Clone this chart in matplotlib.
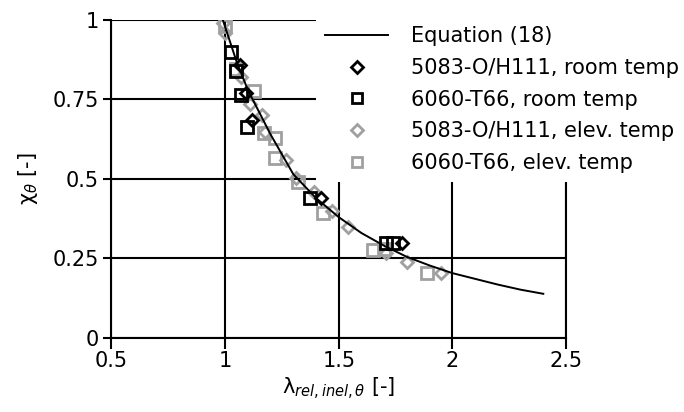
import matplotlib
matplotlib.use("Agg")
import matplotlib.pyplot as plt

plt.rcParams['font.family'] = ['DejaVu Sans']
plt.rcParams['mathtext.fontset'] = 'dejavusans'

# Equation (18) curve
eq_lam = [0.99, 1.05, 1.10, 1.20, 1.30, 1.40, 1.50, 1.60, 1.70, 1.80, 1.90, 2.00, 2.10, 2.20, 2.30, 2.40]
eq_chi = [1.00, 0.87, 0.78, 0.64, 0.515, 0.44, 0.38, 0.33, 0.29, 0.255, 0.228, 0.204, 0.186, 0.168, 0.152, 0.139]

# 5083-O/H111, room temp
al5083_rt_lam = [1.066, 1.09, 1.12, 1.42, 1.78]
al5083_rt_chi = [0.86, 0.77, 0.686, 0.44, 0.30]

# 6060-T66, room temp
al6060_rt_lam = [1.026, 1.048, 1.07, 1.097, 1.375, 1.71, 1.74]
al6060_rt_chi = [0.90, 0.84, 0.764, 0.664, 0.44, 0.30, 0.30]

# 5083-O/H111, elev. temp
al5083_et_lam = [0.99, 1.00, 1.07, 1.11, 1.163, 1.176, 1.27, 1.31, 1.39, 1.47, 1.54, 1.71, 1.80, 1.95]
al5083_et_chi = [0.99, 0.96, 0.82, 0.735, 0.70, 0.648, 0.56, 0.503, 0.46, 0.40, 0.35, 0.267, 0.24, 0.204]

# 6060-T66, elev. temp
al6060_et_lam = [1.00, 1.05, 1.128, 1.17, 1.22, 1.22, 1.32, 1.43, 1.65, 1.70, 1.89]
al6060_et_chi = [0.98, 0.845, 0.777, 0.645, 0.63, 0.566, 0.49, 0.393, 0.277, 0.28, 0.204]

x_ticks = [0.5, 1, 1.5, 2, 2.5]
x_ticklabels = ['0.5', '1', '1.5', '2', '2.5']
y_ticks = [0, 0.25, 0.5, 0.75, 1]
y_ticklabels = ['0', '0.25', '0.5', '0.75', '1']

fig = plt.figure(figsize=(6.84, 4.12), dpi=100)
ax = fig.add_axes([0.163, 0.1796, 0.6645, 0.7719])
ax.set_xlim(0.5, 2.5)
ax.set_ylim(0, 1)

gray = '#a0a0a0'
fs = 15

ax.plot(al5083_et_lam, al5083_et_chi, linestyle='none', marker='D', ms=6.6, mew=2,
        mfc='none', mec=gray, label='5083-O/H111, elev. temp', zorder=3)
ax.plot(al6060_et_lam, al6060_et_chi, linestyle='none', marker='s', ms=8.5, mew=2,
        mfc='none', mec=gray, label='6060-T66, elev. temp', zorder=3)
ax.plot(al5083_rt_lam, al5083_rt_chi, linestyle='none', marker='D', ms=6.6, mew=2,
        mfc='none', mec='black', label='5083-O/H111, room temp', zorder=4)
ax.plot(al6060_rt_lam, al6060_rt_chi, linestyle='none', marker='s', ms=8.5, mew=2,
        mfc='none', mec='black', label='6060-T66, room temp', zorder=4)
ax.plot(eq_lam, eq_chi, color='black', lw=1.4, label='Equation (18)', zorder=5)

for s in ['top', 'right']:
    ax.spines[s].set_visible(False)
for s in ['left', 'bottom']:
    ax.spines[s].set_linewidth(1.5)

ax.grid(True, color='black', lw=1.5)
ax.set_axisbelow(True)
# right border at x = 2.5 drawn as grid line
ax.axvline(2.5, color='black', lw=1.5, zorder=0.5, clip_on=False)

ax.set_xticks(x_ticks)
ax.set_xticklabels(x_ticklabels, fontsize=fs)
ax.set_yticks(y_ticks)
ax.set_yticklabels(y_ticklabels, fontsize=fs)
ax.tick_params(axis='x', direction='out', length=8, width=1.5, pad=1)
ax.tick_params(axis='y', direction='out', length=6, width=1.5, pad=3)

ax.set_xlabel(r'λ$_{\mathit{rel,inel,\theta}}$ [-]', fontsize=fs, labelpad=4)
ax.set_ylabel(r'χ$_{\theta}$ [-]', fontsize=fs, labelpad=9)

handles, labels = ax.get_legend_handles_labels()
order = [4, 2, 3, 0, 1]
leg = fig.legend([handles[i] for i in order], [labels[i] for i in order],
                 loc='upper left', bbox_to_anchor=(316 / 684, 1 - 17 / 412),
                 fontsize=fs, frameon=True, fancybox=False, framealpha=1,
                 facecolor='white', edgecolor='none', handlelength=3.0,
                 handletextpad=1.1, labelspacing=0.56, borderpad=0.45,
                 borderaxespad=0.0, markerscale=0.85)
leg.set_zorder(10)

fig.savefig('out.png', dpi=100)
